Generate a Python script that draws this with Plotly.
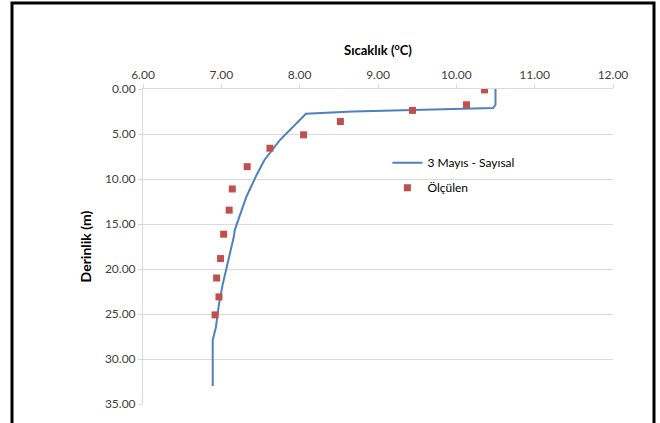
import plotly.graph_objects as go

# Simulated profile (3 Mayıs - Sayısal)
sim_temp = [10.50, 10.50, 10.47, 9.45, 8.68, 8.08, 7.87, 7.75, 7.55, 7.45, 7.32, 7.17, 7.16, 7.09, 7.02, 6.97, 6.93, 6.89, 6.89]
sim_depth = [0.0, 1.75, 2.12, 2.31, 2.50, 2.75, 4.54, 5.65, 7.88, 9.55, 11.97, 15.70, 16.40, 19.00, 21.60, 23.90, 26.50, 27.90, 33.00]

# Measured (Ölçülen)
obs_temp = [10.36, 10.13, 9.44, 8.52, 8.05, 7.62, 7.33, 7.14, 7.10, 7.03, 6.99, 6.94, 6.97, 6.92]
obs_depth = [0.10, 1.75, 2.38, 3.61, 5.09, 6.58, 8.63, 11.11, 13.46, 16.13, 18.84, 21.00, 23.10, 25.10]

x_ticks = [6, 7, 8, 9, 10, 11, 12]
y_ticks = [0, 5, 10, 15, 20, 25, 30, 35]

FONT = "Lato, 'Open Sans', sans-serif"
GRID = "#d9d9d9"

fig = go.Figure()
fig.add_trace(go.Scatter(
    x=sim_temp, y=sim_depth, mode="lines", name="3 Mayıs - Sayısal",
    line=dict(color="#4f81bd", width=2), legendgroup="a"))
fig.add_trace(go.Scatter(
    x=obs_temp, y=obs_depth, mode="markers", name="Ölçülen",
    marker=dict(symbol="square", size=7, color="#c0504d"), legendgroup="b"))

fig.update_layout(
    width=660, height=423,
    margin=dict(l=143, r=47, t=89, b=19),
    paper_bgcolor="white", plot_bgcolor="white",
    font=dict(family=FONT, size=12, color="#404040"),
    showlegend=True,
    legend=dict(x=0.52, y=0.812, xanchor="left", yanchor="top",
                bgcolor="rgba(0,0,0,0)", tracegroupgap=6, itemwidth=30,
                font=dict(family=FONT, size=12, color="#000000")),
    xaxis=dict(side="top", range=[6, 12], tickvals=x_ticks, tickformat=".2f",
               showgrid=False, zeroline=False, showline=True, linecolor=GRID,
               ticks="outside", ticklen=4, tickcolor=GRID,
               tickfont=dict(size=12, color="#404040"),
               title=dict(text="<b>Sıcaklık (<sup>o</sup>C)</b>", standoff=8,
                          font=dict(family=FONT, size=13, color="#000000"))),
    yaxis=dict(range=[35, 0], tickvals=y_ticks, tickformat=".2f",
               showgrid=True, gridcolor=GRID, zeroline=False, showline=True,
               linecolor=GRID, ticks="outside", ticklen=4, tickcolor=GRID,
               tickfont=dict(size=12, color="#404040"),
               title=dict(text="<b>Derinlik (m)</b>", standoff=10,
                          font=dict(family=FONT, size=14, color="#000000"))),
    shapes=[dict(type="rect", xref="paper", yref="paper",
                 x0=(12 - 143) / 470, x1=(654 - 143) / 470,
                 y0=-0.1, y1=(404 - 3) / 315,
                 line=dict(color="black", width=3), fillcolor="rgba(0,0,0,0)",
                 layer="below")],
)

fig.write_html("out.html", config={"displayModeBar": False},
               post_script="document.body.style.margin='0';document.body.style.overflow='hidden';")
